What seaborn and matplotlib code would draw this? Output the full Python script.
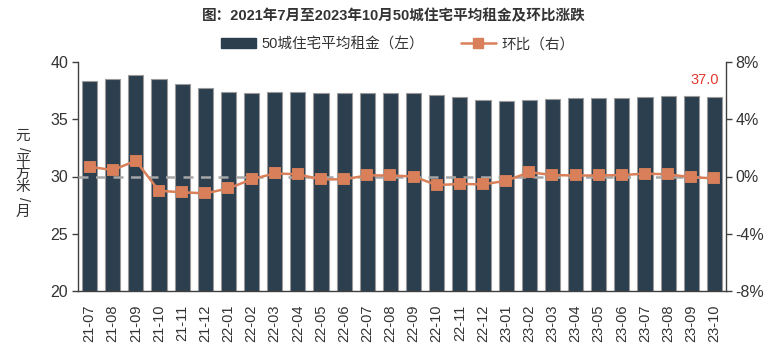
import numpy as np
import pandas as pd
import matplotlib
matplotlib.use("Agg")
import matplotlib.pyplot as plt
import seaborn as sns
from matplotlib.lines import Line2D
from matplotlib.patches import Patch

months = ["21-07", "21-08", "21-09", "21-10", "21-11", "21-12",
          "22-01", "22-02", "22-03", "22-04", "22-05", "22-06",
          "22-07", "22-08", "22-09", "22-10", "22-11", "22-12",
          "23-01", "23-02", "23-03", "23-04", "23-05", "23-06",
          "23-07", "23-08", "23-09", "23-10"]
rent = [38.30, 38.48, 38.90, 38.55, 38.12, 37.70,
        37.36, 37.30, 37.35, 37.42, 37.32, 37.26,
        37.30, 37.30, 37.30, 37.12, 36.90, 36.70,
        36.62, 36.70, 36.77, 36.83, 36.85, 36.87,
        36.92, 37.00, 37.02, 36.98]
mom = [0.68, 0.45, 1.10, -1.00, -1.10, -1.18,
       -0.83, -0.20, 0.22, 0.15, -0.20, -0.20,
       0.08, 0.07, 0.00, -0.60, -0.52, -0.55,
       -0.30, 0.30, 0.10, 0.07, 0.07, 0.10,
       0.20, 0.15, -0.05, -0.13]
left_ticks = [20, 25, 30, 35, 40]
right_ticks = [-8, -4, 0, 4, 8]

title = "图：2021年7月至2023年10月50城住宅平均租金及环比涨跌"
bar_label = "50城住宅平均租金（左）"
line_label = "环比（右）"
ylabel_chars = ["元", "/", "平", "方", "米", "/", "月"]

BAR_C = "#2B3F4F"
LINE_C = "#D9805A"
TXT_C = "#333333"

sns.set_theme(style="white")
plt.rcParams["font.family"] = ["Liberation Sans", "Noto Sans CJK SC", "DejaVu Sans"]

df = pd.DataFrame({"month": months, "rent": rent, "mom": mom})

fig = plt.figure(figsize=(7.8, 3.53), dpi=100)
ax = fig.add_axes([0.1, 0.1756, 0.8308, 0.6488])

sns.barplot(data=df, x="month", y="rent", ax=ax, color=BAR_C, width=0.65,
            edgecolor="#9A9A9A", linewidth=0.8, saturation=1)
ax.set_ylim(20, 40)
ax.set_yticks(left_ticks)
ax.set_xlim(-0.5, len(months) - 0.5)
ax.set_xlabel("")
ax.set_ylabel("")

ax2 = ax.twinx()
ax2.axhline(0, color="#A6A6A6", lw=1.8, ls=(0, (4, 3)), zorder=1)
sns.pointplot(data=df, x="month", y="mom", ax=ax2, color=LINE_C,
              markers="s", markersize=7, linewidth=1.8)
ax2.set_ylim(-8, 8)
ax2.set_yticks(right_ticks)
ax2.set_yticklabels([f"{v}%" for v in right_ticks])
ax2.set_xlim(-0.5, len(months) - 0.5)
ax2.set_xlabel("")
ax2.set_ylabel("")

ax.set_xticks(range(len(months)))
ax.set_xticklabels(months, rotation=90, fontsize=10.5, color=TXT_C)

for a in (ax, ax2):
    for s in a.spines.values():
        s.set_visible(False)
    a.grid(False)
ax.spines["left"].set_visible(True)
ax.spines["bottom"].set_visible(True)
ax2.spines["right"].set_visible(True)
for s in (ax.spines["left"], ax.spines["bottom"], ax2.spines["right"]):
    s.set_color("#404040")
    s.set_linewidth(1.0)

ax.tick_params(axis="y", left=True, length=4, width=1, color="#404040",
               labelsize=11.5, labelcolor=TXT_C, pad=3)
ax.tick_params(axis="x", bottom=False, labelsize=10.5, pad=4)
ax2.tick_params(axis="y", right=True, length=4, width=1, color="#404040",
                labelsize=11.5, labelcolor=TXT_C, pad=3)

# Last value label
ax.annotate(f"{rent[-1]:.1f}", xy=(len(months) - 1, rent[-1]),
            xytext=(-7, 7), textcoords="offset points", ha="center",
            va="bottom", color="#E03A30", fontsize=10.5)

fig.text(0.505, 0.955, title, ha="center", va="center", fontsize=10.5,
         fontweight="bold", color=TXT_C)

handles = [Patch(facecolor=BAR_C, edgecolor=BAR_C),
           Line2D([], [], color=LINE_C, lw=1.8, marker="s", markersize=7)]
fig.legend(handles, [bar_label, line_label], loc="center",
           bbox_to_anchor=(0.51, 0.875), ncol=2, frameon=False,
           fontsize=10.5, handlelength=2.4, columnspacing=2.5,
           handletextpad=0.4, labelcolor=TXT_C)

y0 = 0.615
for i, ch in enumerate(ylabel_chars):
    fig.text(0.029, y0 - i * 0.036, ch, ha="center", va="center",
             fontsize=10.5, color=TXT_C, rotation=-90 if ch == "/" else 0)

fig.savefig("out.png", dpi=100)
